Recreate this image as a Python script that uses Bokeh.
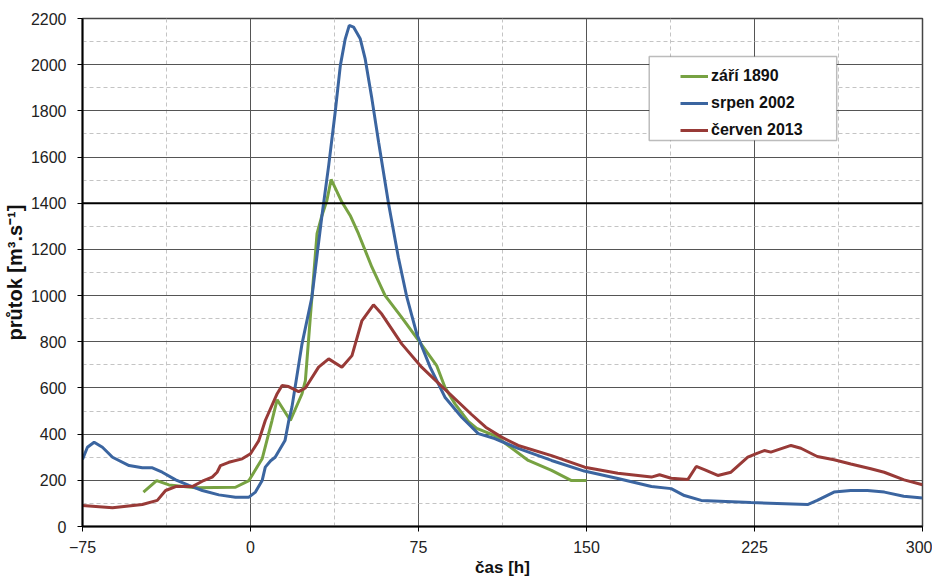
from bokeh.plotting import figure
from bokeh.models import FixedTicker, Legend, LegendItem, Span, BoxAnnotation
from bokeh.embed import file_html
from bokeh.resources import INLINE

# ---- data ----
x_ticks = [-75, 0, 75, 150, 225, 300]
x_minor = [-37.5, 37.5, 112.5, 187.5, 262.5]
y_ticks = [0, 200, 400, 600, 800, 1000, 1200, 1400, 1600, 1800, 2000, 2200]
y_minor = [100, 300, 500, 700, 900, 1100, 1300, 1500, 1700, 1900, 2100]

series_names = ["září 1890", "srpen 2002", "červen 2013"]

green_x = [-47.8, -41.9, -36.4, -24.5, -6.7, -0.7, 5.2, 9.6, 11.9, 17.8, 23, 24.5, 26.7,
           29.7, 31.9, 34.1, 36, 40.8, 44.5, 48.2, 54.2, 60.1, 67.5, 75, 83.1, 86.8,
           91.3, 97.2, 101, 109, 124, 134.4, 143.3, 150]
green_y = [149, 199, 180, 168, 170, 199, 293, 459, 549, 459, 575, 632, 906,
           1268, 1347, 1412, 1503, 1405, 1347, 1268, 1123, 1000, 906, 806, 697, 603,
           531, 455, 425, 394, 286, 243, 199, 199]

blue_x = [-75, -72.8, -69.8, -66.1, -61.6, -54.2, -48.3, -43.8, -39.4, -33.4, -27.5,
          -21.5, -14.1, -6.7, -0.7, 2.2, 5.2, 6.6, 9, 11, 15.4, 17.1, 18.5, 23, 27.4,
          31.9, 34.9, 37.8, 40.1, 42.3, 44.1, 46.0, 49.0, 51.2, 54.2, 57.2, 61.6, 66,
          69.8, 74.2, 80.2, 86.8, 94.3, 101.7, 109, 119.5, 134.4, 149, 164, 179,
          187.8, 193.7, 201.2, 223.4, 248.7, 253, 260.5, 268, 275.4, 283, 291.6, 300]
blue_y = [290, 343, 365, 343, 300, 264, 254, 254, 235, 202, 178,
          156, 137, 127, 127, 149, 199, 257, 285, 300, 372, 459, 517, 791, 993,
          1347, 1563, 1794, 1996, 2112, 2170, 2163, 2112, 2025, 1852, 1664, 1400, 1166,
          993, 835, 690, 560, 473, 402, 381, 338, 286, 240, 208, 173,
          164, 134, 113, 104, 95, 113, 149, 156, 156, 149, 131, 123]

red_x = [-75, -61.6, -48.3, -41.6, -37.9, -33.4, -26, -21.5, -17.1, -14.9, -13.4, -9.7,
         -3.7, 0, 3.7, 6.6, 11.9, 14.1, 17, 21.5, 24.5, 30.4, 34.9, 40.8, 45.3, 49.7,
         54.9, 58.6, 67.5, 76.4, 85.4, 98.7, 105, 112.1, 119.5, 134.4, 149.2, 164, 179,
         182.6, 187.8, 195.3, 199, 202.6, 208.6, 214.5, 222, 226.4, 229.4, 232.3,
         241.3, 245.7, 253, 260.5, 268, 276.9, 282.9, 291.8, 300]
red_y = [91, 81, 95, 113, 156, 173, 173, 196, 214, 235, 264, 278,
         293, 315, 372, 459, 575, 611, 606, 584, 600, 690, 726, 690, 740, 890,
         960, 920, 791, 690, 607, 485, 430, 387, 351, 307, 257, 231, 214,
         224, 209, 204, 260, 246, 221, 235, 300, 318, 329, 322,
         351, 339, 303, 289, 271, 250, 235, 202, 181]

colors = ["#77A242", "#3B65A0", "#983A37"]

FONT = "Liberation Sans"

p = figure(width=932, height=581, output_backend="svg", toolbar_location=None,
           x_range=(-75, 300), y_range=(0, 2200),
           min_border_left=80, min_border_right=10, min_border_top=18, min_border_bottom=55)

p.background_fill_color = "white"
p.border_fill_color = "white"
p.outline_line_color = "#444444"
p.outline_line_width = 1.5

p.xaxis.ticker = FixedTicker(ticks=x_ticks, minor_ticks=x_minor)
p.yaxis.ticker = FixedTicker(ticks=y_ticks, minor_ticks=y_minor)

for ax in (p.xaxis[0], p.yaxis[0]):
    ax.axis_line_color = "black"
    ax.axis_line_width = 2
    ax.major_tick_line_color = "black"
    ax.major_tick_out = 5
    ax.major_tick_in = 0
    ax.minor_tick_line_color = None
    ax.major_label_text_font = FONT
    ax.major_label_text_font_size = "16px"
    ax.major_label_text_color = "#222222"
    ax.axis_label_text_font = FONT
    ax.axis_label_text_font_style = "bold"
    ax.axis_label_text_color = "#111111"

p.xaxis.axis_label = "čas [h]"
p.yaxis.axis_label = "průtok [m³.s⁻¹]"
p.xaxis.axis_label_text_font_size = "17px"
p.yaxis.axis_label_text_font_size = "20px"
p.xaxis.major_label_standoff = 9
p.yaxis.major_label_standoff = 11
p.xaxis.axis_label_standoff = 2
p.yaxis.axis_label_standoff = 2

for g in (p.xgrid[0], p.ygrid[0]):
    g.grid_line_color = "#555555"
    g.grid_line_width = 1
    g.minor_grid_line_color = "#c4c4c4"
    g.minor_grid_line_dash = "4 3"
    g.minor_grid_line_width = 1

p.add_layout(Span(location=1400, dimension="width", line_color="black", line_width=2))

r_green = p.line(green_x, green_y, line_color=colors[0], line_width=3)
r_blue = p.line(blue_x, blue_y, line_color=colors[1], line_width=3)
r_red = p.line(red_x, red_y, line_color=colors[2], line_width=3)

# legend frame
p.add_layout(BoxAnnotation(left=178, right=261.7, bottom=1672, top=2035,
                           fill_color="white", fill_alpha=1,
                           line_color="#222222", line_width=1.5))

legend = Legend(items=[LegendItem(label=series_names[0], renderers=[r_green]),
                       LegendItem(label=series_names[1], renderers=[r_blue]),
                       LegendItem(label=series_names[2], renderers=[r_red])],
                location=(598, 386))
legend.border_line_color = None
legend.background_fill_alpha = 0
legend.label_text_font = FONT
legend.label_text_font_style = "bold"
legend.label_text_font_size = "16px"
legend.label_text_color = "#111111"
legend.glyph_width = 28
legend.glyph_height = 20
legend.label_height = 20
legend.spacing = 7
legend.padding = 5
legend.margin = 0
legend.label_standoff = 3
p.add_layout(legend, "center")

open("out.html", "w").write(file_html(p, INLINE))
